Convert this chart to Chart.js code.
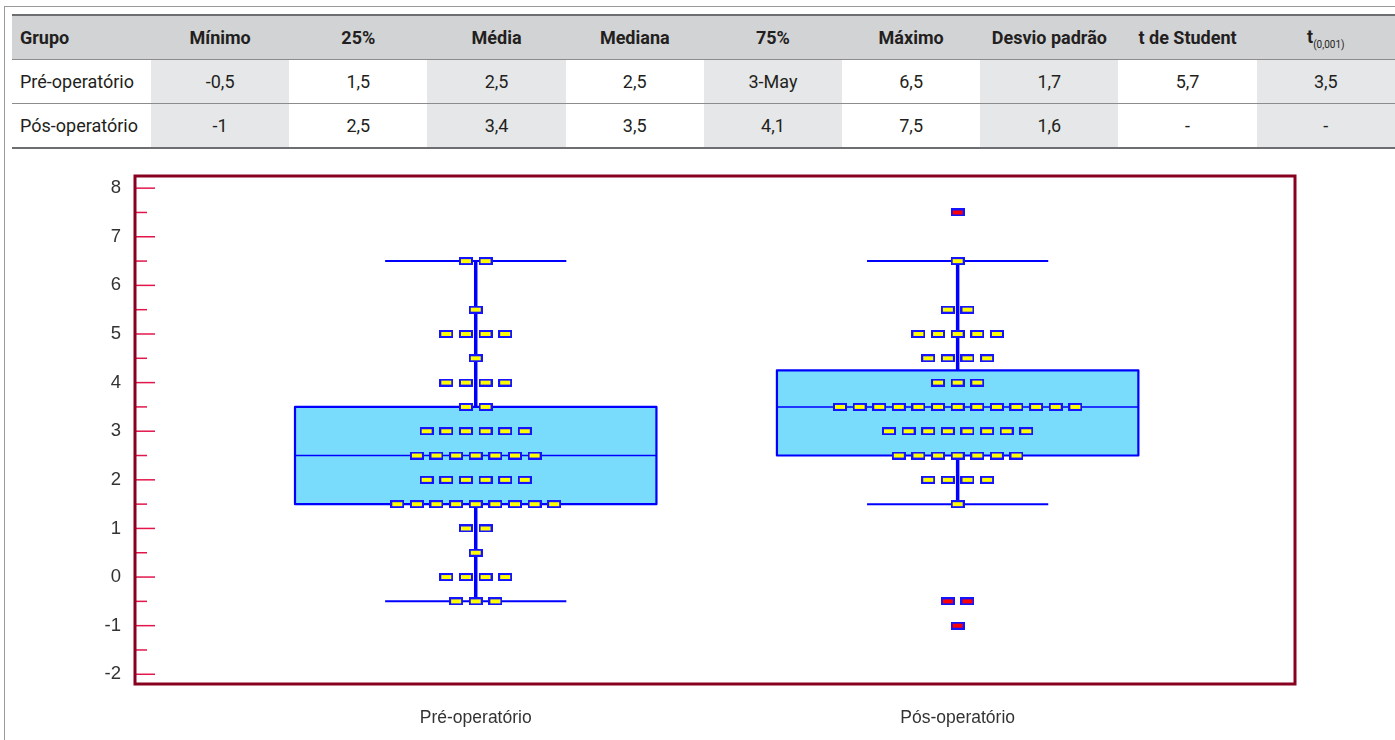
<!DOCTYPE html>
<html lang="pt">
<head>
    <meta charset="UTF-8">
    <title>Pré vs Pós-operatório</title>
    <script src="https://cdn.jsdelivr.net/npm/chart.js"></script>
    <style>
        html, body {
            margin: 0;
            padding: 0;
            background: #fff;
        }
        body {
            width: 1395px;
            height: 740px;
            position: relative;
            overflow: hidden;
            font-family: Roboto, "Liberation Sans", sans-serif;
        }
        #outline {
            position: absolute;
            left: 4px;
            top: 6px;
            width: 1500px;
            height: 800px;
            border-left: 1px solid #9a9a9a;
            border-top: 1px solid #9a9a9a;
        }
        #stats {
            position: absolute;
            left: 12px;
            top: 14px;
            width: 1383px;
            border-collapse: collapse;
            table-layout: fixed;
            font-size: 18px;
            color: #231f20;
        }
        #stats th, #stats td {
            height: 43px;
            padding: 0;
            text-align: center;
            border-bottom: 1px solid #8c8c8c;
        }
        #stats th {
            background: #d2d3d5;
            border-top: 2px solid #6d6e71;
            font-weight: bold;
        }
        #stats th:first-child, #stats td:first-child {
            text-align: left;
            padding-left: 8px;
        }
        #stats td:nth-child(even) {
            background: #e6e7e8;
        }
        #stats tr:last-child td {
            border-bottom: 2px solid #6d6e71;
        }
        #stats sub {
            font-size: 10px;
            font-weight: normal;
        }
        #wrap {
            position: absolute;
            left: 0;
            top: 150px;
            width: 1395px;
            height: 590px;
        }
    </style>
</head>
<body>
<div id="outline"></div>
<table id="stats">
    <colgroup id="cols"></colgroup>
    <thead><tr id="head"></tr></thead>
    <tbody id="rows"></tbody>
</table>
<div id="wrap">
    <canvas id="boxplot" width="1395" height="590"></canvas>
</div>

<script>
    // tabela
    const tableHeader = ['Grupo', 'Mínimo', '25%', 'Média', 'Mediana', '75%', 'Máximo', 'Desvio padrão', 't de Student', 't<sub>(0,001)</sub>'];
    const tablePre = ['Pré-operatório', '-0,5', '1,5', '2,5', '2,5', '3-May', '6,5', '1,7', '5,7', '3,5'];
    const tablePost = ['Pós-operatório', '-1', '2,5', '3,4', '3,5', '4,1', '7,5', '1,6', '-', '-'];

    // box plot
    const groups = ['Pré-operatório', 'Pós-operatório'];
    const q1 = [1.5, 2.5];
    const median = [2.5, 3.5];
    const q3 = [3.5, 4.25];
    const whiskerLow = [-0.5, 1.5];
    const whiskerHigh = [6.5, 6.5];

    // valores observados e quantas vezes aparecem
    const preValues = [6.5, 5.5, 5, 4.5, 4, 3.5, 3, 2.5, 2, 1.5, 1, 0.5, 0, -0.5];
    const preCounts = [2, 1, 4, 1, 4, 2, 6, 7, 6, 9, 2, 1, 4, 3];
    const postValues = [6.5, 5.5, 5, 4.5, 4, 3.5, 3, 2.5, 2, 1.5];
    const postCounts = [1, 2, 5, 4, 3, 13, 8, 7, 4, 1];
    const postOutlierValues = [7.5, -0.5, -1];
    const postOutlierCounts = [1, 2, 1];

    const yMajorTicks = [-2, -1, 0, 1, 2, 3, 4, 5, 6, 7, 8];
    const yMinorTicks = [-1.5, -0.5, 0.5, 1.5, 2.5, 3.5, 4.5, 5.5, 6.5, 7.5];

    // build table
    const cols = document.getElementById('cols');
    tableHeader.forEach((h, i) => {
        const c = document.createElement('col');
        c.style.width = i === 0 ? '139px' : '138.2px';
        cols.appendChild(c);
    });
    const head = document.getElementById('head');
    tableHeader.forEach(h => {
        const th = document.createElement('th');
        th.innerHTML = h;
        head.appendChild(th);
    });
    const rows = document.getElementById('rows');
    [tablePre, tablePost].forEach(r => {
        const tr = document.createElement('tr');
        r.forEach(v => {
            const td = document.createElement('td');
            td.textContent = v;
            tr.appendChild(td);
        });
        rows.appendChild(tr);
    });

    const BOX_HALF = 0.375;
    const CAP_HALF = 0.188;
    const DOT_STEP = 0.0407;
    const BLUE = '#0000ff';

    function swarm(center, values, counts) {
        const pts = [];
        values.forEach((v, i) => {
            const n = counts[i];
            for (let k = 0; k < n; k++) {
                pts.push({x: center + (k - (n - 1) / 2) * DOT_STEP, y: v});
            }
        });
        return pts;
    }

    function marker(fill) {
        const c = document.createElement('canvas');
        c.width = 14;
        c.height = 8;
        const g = c.getContext('2d');
        g.fillStyle = fill;
        g.fillRect(1, 1, 12, 6);
        g.strokeStyle = '#1414ff';
        g.lineWidth = 2;
        g.strokeRect(1, 1, 12, 6);
        return c;
    }
    const yellowMark = marker('#ffff00');
    const redMark = marker('#ff0000');

    function lineSet(data, width, order) {
        return {
            data: data,
            showLine: true,
            borderColor: BLUE,
            borderWidth: width,
            pointRadius: 0,
            fill: false,
            order: order
        };
    }

    const datasets = [];
    groups.forEach((g, i) => {
        const c = i + 1;
        // whisker and caps
        datasets.push(lineSet([{x: c, y: whiskerLow[i]}, {x: c, y: whiskerHigh[i]}], 3.5, 4));
        datasets.push(lineSet([{x: c - CAP_HALF, y: whiskerLow[i]}, {x: c + CAP_HALF, y: whiskerLow[i]}], 2, 3));
        datasets.push(lineSet([{x: c - CAP_HALF, y: whiskerHigh[i]}, {x: c + CAP_HALF, y: whiskerHigh[i]}], 2, 3));
        // box
        const box = lineSet([
            {x: c - BOX_HALF, y: q1[i]}, {x: c + BOX_HALF, y: q1[i]},
            {x: c + BOX_HALF, y: q3[i]}, {x: c - BOX_HALF, y: q3[i]},
            {x: c - BOX_HALF, y: q1[i]}
        ], 2.2, 2);
        box.fill = 'shape';
        box.backgroundColor = '#79dcfd';
        box.borderJoinStyle = 'round';
        datasets.push(box);
        datasets.push(lineSet([{x: c - BOX_HALF, y: median[i]}, {x: c + BOX_HALF, y: median[i]}], 1.5, 1));
    });
    datasets.push({data: swarm(1, preValues, preCounts), pointStyle: yellowMark, pointRadius: 5, order: 0});
    datasets.push({data: swarm(2, postValues, postCounts), pointStyle: yellowMark, pointRadius: 5, order: 0});
    datasets.push({data: swarm(2, postOutlierValues, postOutlierCounts), pointStyle: redMark, pointRadius: 5, order: 0});

    const framePlugin = {
        id: 'frame',
        afterDatasetsDraw(chart) {
            const {ctx, chartArea: a} = chart;
            const y = chart.scales.y;
            ctx.save();
            ctx.strokeStyle = '#e3164c';
            ctx.lineWidth = 1.5;
            yMajorTicks.forEach(v => {
                const py = y.getPixelForValue(v);
                ctx.beginPath();
                ctx.moveTo(a.left, py);
                ctx.lineTo(a.left + 20, py);
                ctx.stroke();
            });
            yMinorTicks.forEach(v => {
                const py = y.getPixelForValue(v);
                ctx.beginPath();
                ctx.moveTo(a.left, py);
                ctx.lineTo(a.left + 12, py);
                ctx.stroke();
            });
            ctx.strokeStyle = '#87001f';
            ctx.lineWidth = 3;
            ctx.strokeRect(a.left, a.top, a.right - a.left, a.bottom - a.top);
            ctx.restore();
        }
    };

    let elem = document.getElementById('boxplot').getContext('2d');
    let chart = new Chart(elem, {
        type: 'scatter',
        data: {datasets: datasets},
        options: {
            responsive: false,
            animation: false,
            layout: {padding: {top: 26, right: 100, left: 0, bottom: 0}},
            plugins: {
                legend: {display: false},
                tooltip: {enabled: false}
            },
            scales: {
                x: {
                    type: 'linear',
                    min: 0.293,
                    max: 2.70,
                    afterBuildTicks: ax => { ax.ticks = groups.map((g, i) => ({value: i + 1})); },
                    afterFit: ax => { ax.height = 56; },
                    grid: {display: false, drawTicks: false},
                    border: {display: false},
                    ticks: {
                        padding: 24,
                        color: '#333',
                        font: {family: 'Liberation Sans', size: 17.5},
                        callback: v => groups[Math.round(v) - 1]
                    }
                },
                y: {
                    type: 'linear',
                    min: -2.2,
                    max: 8.25,
                    afterBuildTicks: ax => { ax.ticks = yMajorTicks.map(v => ({value: v})); },
                    afterFit: ax => { ax.width = 135; },
                    grid: {display: false, drawTicks: false},
                    border: {display: false},
                    ticks: {
                        padding: 14,
                        color: '#333',
                        font: {family: 'Liberation Sans', size: 18.5}
                    }
                }
            }
        },
        plugins: [framePlugin]
    });
</script>
</body>
</html>
